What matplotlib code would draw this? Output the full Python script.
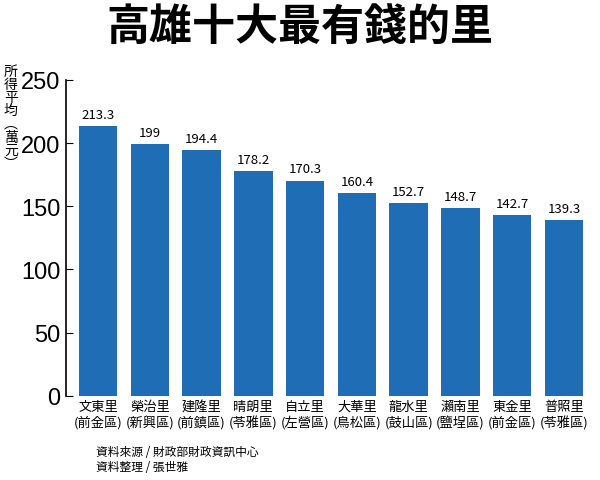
import matplotlib
matplotlib.use("Agg")
import matplotlib.pyplot as plt

plt.rcParams["font.family"] = ["Noto Sans CJK TC", "Noto Sans CJK JP", "Noto Sans CJK SC", "DejaVu Sans"]

names = ["文東里", "榮治里", "建隆里", "晴朗里", "自立里", "大華里", "龍水里", "瀨南里", "東金里", "普照里"]
districts = ["(前金區)", "(新興區)", "(前鎮區)", "(苓雅區)", "(左營區)", "(鳥松區)", "(鼓山區)", "(鹽埕區)", "(前金區)", "(苓雅區)"]
values = [213.3, 199, 194.4, 178.2, 170.3, 160.4, 152.7, 148.7, 142.7, 139.3]
labels = ["213.3", "199", "194.4", "178.2", "170.3", "160.4", "152.7", "148.7", "142.7", "139.3"]
yticks = [0, 50, 100, 150, 200, 250]

fig = plt.figure(figsize=(6, 4.81), dpi=100)
ax = fig.add_axes([0.11, 0.175, 0.873, 0.657])
x = range(len(values))
ax.bar(x, values, width=0.74, color="#1f6db5")
for i, (v, l) in enumerate(zip(values, labels)):
    ax.text(i, v + 4, l, ha="center", va="bottom", fontsize=9.5)
ax.set_xlim(-0.62, 9.5)
ax.set_ylim(0, 250)
ax.set_yticks(yticks)
ax.set_yticklabels([str(t) for t in yticks], fontsize=17, family="Liberation Sans")
ax.tick_params(axis="y", direction="in", length=5, pad=4)
ax.set_xticks(list(x))
ax.set_xticklabels([n + "\n" + d for n, d in zip(names, districts)], fontsize=9.5, linespacing=1.2)
ax.tick_params(axis="x", length=0, pad=3)
for s in ["top", "right"]:
    ax.spines[s].set_visible(False)
ax.spines["bottom"].set_visible(False)
ax.spines["left"].set_linewidth(1.2)

fig.text(0.5, 0.99, "高雄十大最有錢的里", ha="center", va="top", fontsize=31, fontweight="bold")
fig.text(0.018, 0.865, "所\n得\n平\n均\n︵\n萬\n元\n︶", ha="center", va="top", fontsize=10, linespacing=0.92)
fig.text(0.16, 0.015, "資料來源 / 財政部財政資訊中心\n資料整理 / 張世雅", ha="left", va="bottom", fontsize=8.5, linespacing=1.2)
fig.savefig("out.png", dpi=100)
